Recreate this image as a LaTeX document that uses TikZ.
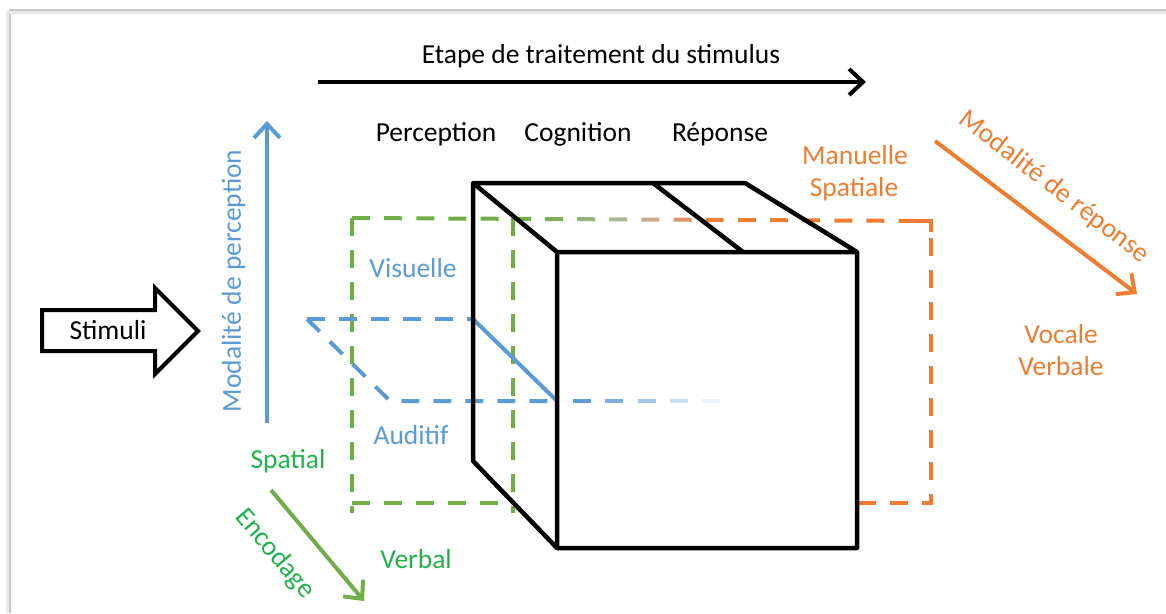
\documentclass[tikz,border=0pt]{standalone}
\usepackage{fontspec}
\setmainfont{Carlito}
\usetikzlibrary{arrows.meta}
\definecolor{gA}{HTML}{70AD47}
\definecolor{gT}{HTML}{22B14C}
\definecolor{oA}{HTML}{ED7D31}
\definecolor{bA}{HTML}{5B9BD5}
\definecolor{gry}{HTML}{C4C4C4}
\definecolor{frm}{HTML}{C8C8C8}
\begin{document}
\begin{tikzpicture}[x=1pt,y=-1pt,
  lbl/.style={font=\fontsize{27.5}{32}\selectfont, inner sep=0pt, text height=17.7pt, text depth=0pt, anchor=center},
  edge/.style={line width=4.5pt, black, line join=round},
  dsh/.style={line width=4pt, dash pattern=on 18pt off 14pt},
  axis/.style={line width=4pt, -{Straight Barb[length=14pt,width=26pt]}},
]
\useasboundingbox (0,0) rectangle (1166,613);
% frame
\coordinate (f0) at (10,10);
\coordinate (f1) at (1166,10);
\coordinate (f2) at (10,613);
\draw[frm, line width=2.5pt] (f1) -- (f0) -- (f2);
\draw[frm!40, line width=3pt] ([yshift=-2.5pt]f1) -- ([xshift=-2.5pt,yshift=-2.5pt]f0) -- ([xshift=-2.5pt]f2);

% title arrow
\coordinate (t0) at (318,82);
\coordinate (t1) at (866,82);
\draw[axis, black] (t0) -- (t1);
\node[lbl] (etape) at (601,55) {Etape de traitement du stimulus};
\node[lbl] (perc) at (436,133) {Perception};
\node[lbl] (cogn) at (578,133) {Cognition};
\node[lbl] (rep) at (720,133) {Réponse};

% green dashed box
\coordinate (gTL) at (352,218);
\coordinate (gBL) at (352,513);
\coordinate (gTR) at (513,218);
\coordinate (gBR) at (513,513);
\coordinate (gB0) at (352,503);
\coordinate (gB1) at (513,503);
\draw[dsh, gA] (gTL) -- (gBL);
\draw[dsh, gA] (gTR) -- (gBR);
\draw[dsh, gA] (gB0) -- (gB1);
% top line green -> orange
\foreach \k in {0,...,17}{
  \pgfmathsetmacro{\xa}{352+32.15*\k}
  \pgfmathsetmacro{\xb}{min(\xa+18,931)}
  \pgfmathsetmacro{\ya}{218+(\xa-352)/193}
  \pgfmathsetmacro{\yb}{218+(\xb-352)/193}
  \pgfmathtruncatemacro{\pg}{max(0,min(100,(650-\xa)/1.2))}
  \pgfmathtruncatemacro{\po}{max(0,min(100,(\xa-600)/1.1))}
  \pgfmathtruncatemacro{\pr}{100-\pg}
  \draw[line width=4pt, color=oA!\po!gry!\pr!gA] (\xa,\ya) -- (\xb,\yb);
}
% orange dashed box
\coordinate (oTR) at (931,221);
\coordinate (oBR) at (931,503);
\coordinate (oBL) at (857,503);
\draw[line width=4pt, oA] (913,221) -- (oTR) -- (931,232);
\draw[dsh, oA, dash phase=-6pt] (931,232) -- (oBR) -- (oBL);

% blue parallelogram
\coordinate (b1) at (307,319);
\coordinate (b2) at (473,319);
\coordinate (b3) at (557,401);
\coordinate (b4) at (390,401);
\draw[dsh, bA] (b1) -- (b2);
\draw[line width=4pt, bA] (b2) -- (b3);
\draw[dsh, bA] (b1) -- (b4) -- (b3);
\foreach \xa/\p in {573/100,605/80,638/55,670/32,702/12}{
  \draw[line width=4pt, bA!\p!white] (\xa,401) -- ++(18,0);
}

% cube
\coordinate (c1) at (473,183);
\coordinate (c2) at (653,183);
\coordinate (c3) at (745,183);
\coordinate (c4) at (557,252);
\coordinate (c5) at (743,252);
\coordinate (c6) at (857,252);
\coordinate (c7) at (857,548);
\coordinate (c8) at (557,548);
\coordinate (c9) at (473,461);
\draw[edge] (c4) -- (c1) -- (c3) -- (c6) -- (c7) -- (c8) -- (c4) -- (c6);
\draw[edge] (c1) -- (c9) -- (c8);
\draw[edge] (c2) -- (c5);

% perception axis
\coordinate (p0) at (267,423);
\coordinate (p1) at (267,121);
\draw[axis, bA] (p0) -- (p1);
\node[lbl, bA, rotate=90] (modp) at (232,281) {Modalité de perception};
\node[lbl, bA] (vis) at (413,269) {Visuelle};
\node[lbl, bA] (aud) at (411,436) {Auditif};

% encodage axis
\coordinate (e0) at (271,490);
\coordinate (e1) at (364,601);
\draw[axis, gA] (e0) -- (e1);
\node[lbl, gT, rotate=-50] (enc) at (276,553) {Encodage};
\node[lbl, gT] (spa) at (288,460) {Spatial};
\node[lbl, gT] (verb) at (416,560) {Verbal};

% reponse axis
\coordinate (r0) at (935,141);
\coordinate (r1) at (1137,294);
\draw[axis, oA] (r0) -- (r1);
\node[lbl, oA, rotate=-37.4] (modr) at (1055,186) {Modalité de réponse};
\node[lbl, oA] (man) at (855,156) {Manuelle};
\node[lbl, oA] (spl) at (854,188) {Spatiale};
\node[lbl, oA] (voc) at (1061,335) {Vocale};
\node[lbl, oA] (vbl) at (1061,367) {Verbale};

% stimuli block arrow
\draw[line width=4pt, line join=miter] (42,310) -- (155,310) -- (155,288) -- (198,331) -- (155,374) -- (155,351) -- (42,351) -- cycle;
\node[lbl] (stim) at (108,331) {Stimuli};
\end{tikzpicture}
\end{document}
